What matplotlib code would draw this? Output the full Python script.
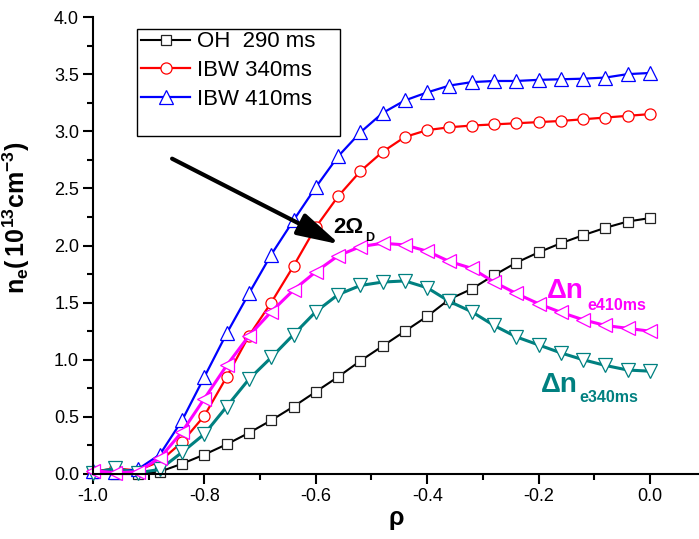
import matplotlib
matplotlib.use("Agg")
import matplotlib.pyplot as plt
from matplotlib.ticker import MultipleLocator
from matplotlib.patches import Rectangle

plt.rcParams['font.family'] = ['Liberation Sans', 'DejaVu Sans']
plt.rcParams['axes.unicode_minus'] = False
plt.rcParams['mathtext.fontset'] = 'custom'
plt.rcParams['mathtext.rm'] = 'Liberation Sans:bold'
plt.rcParams['mathtext.it'] = 'Liberation Sans:bold'
plt.rcParams['mathtext.bf'] = 'Liberation Sans:bold'

# data
rho = [-1.00, -0.96, -0.92, -0.88, -0.84, -0.80, -0.76, -0.72, -0.68, -0.64,
       -0.60, -0.56, -0.52, -0.48, -0.44, -0.40, -0.36, -0.32, -0.28, -0.24,
       -0.20, -0.16, -0.12, -0.08, -0.04, 0.00]

oh_290 = [0.01, 0.00, 0.00, 0.02, 0.09, 0.17, 0.26, 0.36, 0.47, 0.59,
          0.72, 0.85, 0.99, 1.12, 1.25, 1.38, 1.53, 1.62, 1.74, 1.85,
          1.94, 2.02, 2.09, 2.155, 2.21, 2.24]

ibw_340 = [0.02, 0.05, 0.03, 0.11, 0.28, 0.51, 0.85, 1.21, 1.50, 1.82,
           2.16, 2.43, 2.65, 2.82, 2.95, 3.01, 3.035, 3.05, 3.06, 3.07,
           3.08, 3.09, 3.105, 3.12, 3.135, 3.15]

ibw_410 = [0.03, 0.02, 0.04, 0.17, 0.47, 0.85, 1.23, 1.58, 1.92, 2.22,
           2.51, 2.78, 2.99, 3.16, 3.27, 3.34, 3.40, 3.43, 3.44, 3.44,
           3.45, 3.455, 3.46, 3.47, 3.50, 3.51]

dn_410 = [0.03, 0.01, 0.02, 0.14, 0.37, 0.66, 0.95, 1.21, 1.42, 1.61,
          1.77, 1.91, 1.99, 2.02, 2.005, 1.95, 1.86, 1.80, 1.68, 1.58,
          1.49, 1.415, 1.35, 1.30, 1.275, 1.25]

dn_340 = [0.01, 0.05, 0.01, 0.04, 0.19, 0.35, 0.59, 0.83, 1.02, 1.22,
          1.42, 1.57, 1.65, 1.68, 1.69, 1.63, 1.51, 1.42, 1.30, 1.20,
          1.13, 1.06, 1.00, 0.95, 0.91, 0.90]

fig = plt.figure(figsize=(6.99, 5.39), dpi=100)
ax = fig.add_axes([93 / 699, 65 / 539, 606 / 699, 457 / 539])

l_oh, = ax.plot(rho, oh_290, color='black', lw=1.5, marker='s', ms=7.5,
                mfc='white', mec='#222222', mew=0.9, clip_on=False)
l_340, = ax.plot(rho, ibw_340, color='#ff0000', lw=1.6, marker='o', ms=8,
                 mfc='white', mec='#ff0000', mew=0.9, clip_on=False)
l_410, = ax.plot(rho, ibw_410, color='#0000ff', lw=1.6, marker='^', ms=10,
                 mfc='white', mec='#0000ff', mew=0.9, clip_on=False)
ax.plot(rho, dn_340, color='#008080', lw=2.2, marker='v', ms=10,
        mfc='white', mec='#008080', mew=0.9, clip_on=False)
ax.plot(rho, dn_410, color='#ff00ff', lw=2.2, marker='<', ms=10,
        mfc='white', mec='#ff00ff', mew=0.9, clip_on=False)

ax.set_xlim(-1.0, 0.088)
ax.set_ylim(0, 4.0)
ax.spines['top'].set_visible(False)
ax.spines['right'].set_visible(False)
for s in ['left', 'bottom']:
    ax.spines[s].set_linewidth(1.5)

ax.xaxis.set_major_locator(MultipleLocator(0.2))
ax.xaxis.set_minor_locator(MultipleLocator(0.1))
ax.yaxis.set_major_locator(MultipleLocator(0.5))
ax.yaxis.set_minor_locator(MultipleLocator(0.25))
ax.tick_params(which='major', direction='out', length=7, width=1.5,
               labelsize=13, pad=3)
ax.tick_params(which='minor', direction='out', length=4, width=1.5)

ax.set_xlabel('ρ', fontsize=18, fontweight='bold')
ax.xaxis.set_label_coords(0.5, -0.07)
ax.set_ylabel(r'$\mathrm{n_e(\,10^{13}cm^{-3})}$', fontsize=18)
ax.yaxis.set_label_coords(-0.10, 0.56)

# arrow and labels
ax.annotate('', xy=(-0.557, 2.01), xytext=(-0.858, 2.76),
            arrowprops=dict(arrowstyle='-|>,head_length=1.3,head_width=0.35',
                            lw=3, color='black', mutation_scale=20,
                            shrinkA=0, shrinkB=0))
ax.text(-0.568, 2.11, '2Ω', fontsize=16, fontweight='bold', va='baseline')
ax.text(-0.512, 2.043, 'D', fontsize=9, fontweight='bold', va='baseline')

ax.text(-0.186, 1.54, 'Δn', fontsize=20, fontweight='bold',
        color='#ff00ff', va='baseline')
ax.text(-0.112, 1.436, 'e410ms', fontsize=11.5, fontweight='bold',
        color='#ff00ff', va='baseline')
ax.text(-0.196, 0.718, 'Δn', fontsize=20, fontweight='bold',
        color='#008080', va='baseline')
ax.text(-0.126, 0.63, 'e340ms', fontsize=11.5, fontweight='bold',
        color='#008080', va='baseline')

leg = ax.legend(handles=[l_oh, l_340, l_410],
                labels=['OH  290 ms', 'IBW 340ms', 'IBW 410ms'],
                loc='upper left', bbox_to_anchor=(137 / 699, 1 - 27 / 539),
                bbox_transform=fig.transFigure, fontsize=16, frameon=False,
                borderpad=0.2, labelspacing=0.35, handlelength=2.2,
                handletextpad=0.3, borderaxespad=0, numpoints=1)
fig.add_artist(Rectangle((137 / 699, 1 - 136 / 539), 203 / 699, 107 / 539,
                         transform=fig.transFigure, fill=False,
                         lw=1.0, ec='black'))

fig.savefig('out.png', dpi=100)
